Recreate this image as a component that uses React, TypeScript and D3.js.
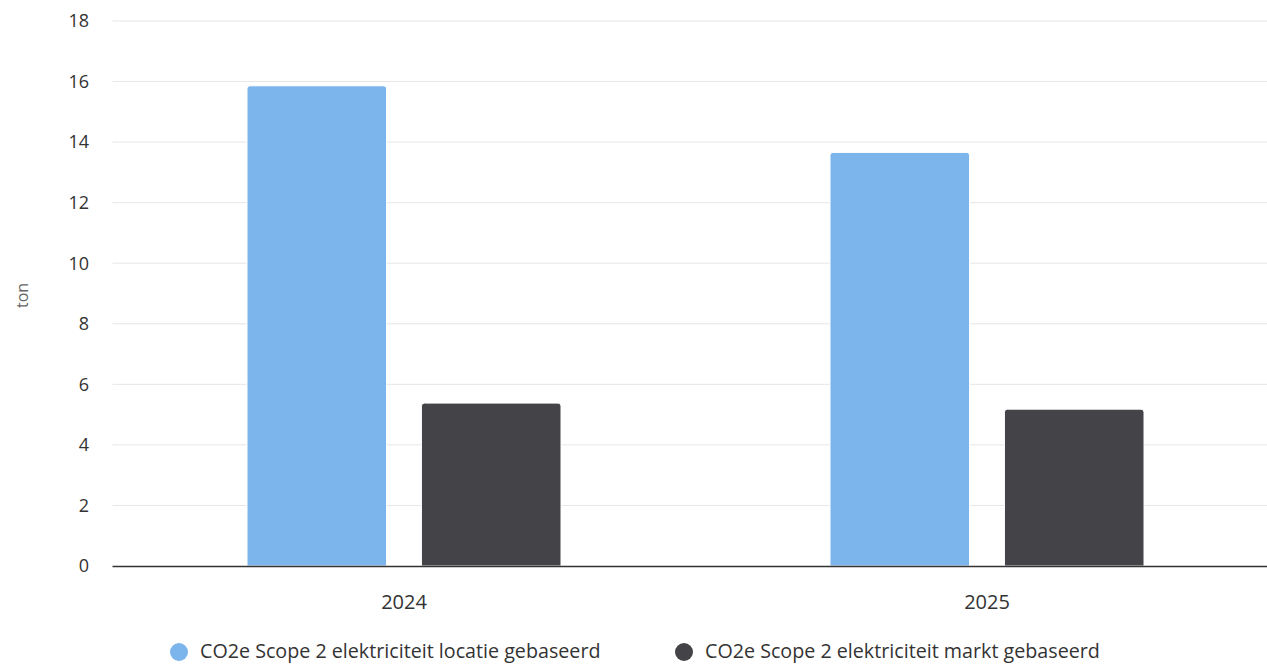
import React from "react";
import * as d3 from "d3";

const categories = ["2024", "2025"];
const seriesNames = [
  "CO2e Scope 2 elektriciteit locatie gebaseerd",
  "CO2e Scope 2 elektriciteit markt gebaseerd",
];
const locatieValues = [15.86, 13.66];
const marktValues = [5.38, 5.18];
const seriesColors = ["#7cb5ec", "#434348"];
const yTicks = [0, 2, 4, 6, 8, 10, 12, 14, 16, 18];

const W = 1267;
const H = 664;
const plotLeft = 112.5;
const plotRight = 1278.5;
const plotTop = 21;
const plotBottom = 566;
const FONT = "'Open Sans', sans-serif";

function topRoundedRect(x: number, y: number, w: number, h: number, r: number) {
  const rr = Math.min(r, h / 2, w / 2);
  return `M${x},${y + h}V${y + rr}Q${x},${y} ${x + rr},${y}H${x + w - rr}Q${x + w},${y} ${x + w},${y + rr}V${y + h}Z`;
}

export default function App() {
  const x0 = d3
    .scaleBand<string>()
    .domain(categories)
    .range([plotLeft, plotRight])
    .paddingInner(0)
    .paddingOuter(0);
  const y = d3.scaleLinear().domain([0, 18]).range([plotBottom, plotTop]);

  const band = x0.bandwidth();
  const groupPad = 134.5;
  const x1 = d3
    .scaleBand<number>()
    .domain([0, 1])
    .range([groupPad, band - groupPad])
    .paddingInner(0.2);

  const series = [locatieValues, marktValues];

  return (
    <svg width={W} height={H} style={{ display: "block", position: "absolute", left: 0, top: 0 }}>
      <rect width={W} height={H} fill="#ffffff" />
      {yTicks.map((t) => (
        <g key={t}>
          {t !== 0 && (
            <line x1={plotLeft} x2={W} y1={y(t)} y2={y(t)} stroke="#e6e6e6" strokeWidth={1} />
          )}
          <text
            x={89}
            y={y(t)}
            dy="0.35em"
            textAnchor="end"
            fontFamily={FONT}
            fontSize={18}
            fill="#333333"
          >
            {t}
          </text>
        </g>
      ))}
      <text
        transform={`translate(22,${(plotTop + plotBottom) / 2 + 2}) rotate(-90)`}
        textAnchor="middle"
        dy="0.35em"
        fontFamily={FONT}
        fontSize={16}
        fill="#666666"
      >
        ton
      </text>
      {series.map((vals, si) =>
        vals.map((v, ci) => {
          const bx = (x0(categories[ci]) as number) + (x1(si) as number);
          const by = y(v);
          return (
            <path
              key={`${si}-${ci}`}
              d={topRoundedRect(bx, by, x1.bandwidth(), plotBottom - by, 3)}
              fill={seriesColors[si]}
              stroke="#ffffff"
              strokeWidth={1}
            />
          );
        })
      )}
      <line x1={plotLeft} x2={W} y1={plotBottom + 0.5} y2={plotBottom + 0.5} stroke="#333333" strokeWidth={1.3} />
      {categories.map((c) => (
        <text
          key={c}
          x={(x0(c) as number) + band / 2}
          y={609}
          textAnchor="middle"
          fontFamily={FONT}
          fontSize={20}
          fill="#333333"
        >
          {c}
        </text>
      ))}
      {seriesNames.map((name, i) => {
        const cx = i === 0 ? 179 : 684;
        return (
          <g key={name}>
            <circle cx={cx} cy={652} r={9} fill={seriesColors[i]} />
            <text x={cx + 21} y={658} fontFamily={FONT} fontSize={19.7} fill="#333333">
              {name}
            </text>
          </g>
        );
      })}
    </svg>
  );
}
